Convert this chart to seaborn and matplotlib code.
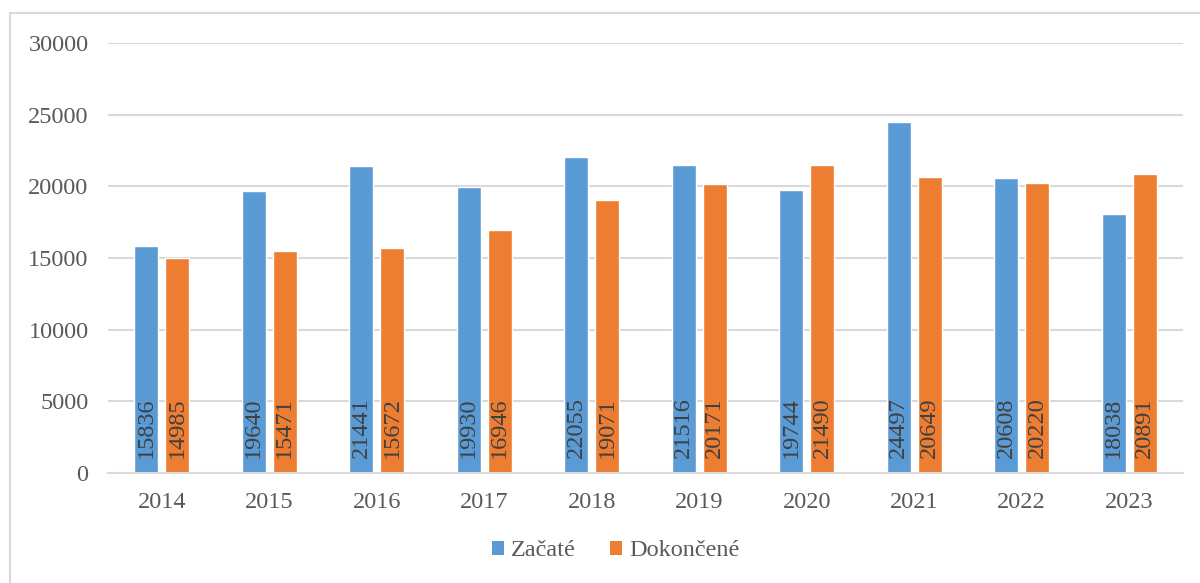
import matplotlib
matplotlib.use("Agg")
import matplotlib.pyplot as plt
import seaborn as sns
import pandas as pd
from matplotlib.patches import Rectangle, Patch

years = ["2014", "2015", "2016", "2017", "2018", "2019", "2020", "2021", "2022", "2023"]
zacate = [15836, 19640, 21441, 19930, 22055, 21516, 19744, 24497, 20608, 18038]
dokoncene = [14985, 15471, 15672, 16946, 19071, 20171, 21490, 20649, 20220, 20891]
series_names = ["Začaté", "Dokončené"]
colors = ["#5B9BD5", "#ED7D31"]
yticks = [0, 5000, 10000, 15000, 20000, 25000, 30000]

df = pd.DataFrame({
    "year": years * 2,
    "value": zacate + dokoncene,
    "series": [series_names[0]] * len(years) + [series_names[1]] * len(years),
})

sns.set_style("white")
plt.rcParams["font.family"] = ["Liberation Serif", "DejaVu Serif"]
FS = 17.5
TXT = "#595959"

fig = plt.figure(figsize=(12, 5.83), dpi=100)
fig.patches.append(Rectangle((10 / 1200, -0.1), 1.2, (583 - 13) / 583 + 0.1,
                             transform=fig.transFigure, fill=False,
                             edgecolor="#d9d9d9", linewidth=1.5))
ax = fig.add_axes([108 / 1200, 1 - 473 / 583, (1183 - 108) / 1200, (473 - 43) / 583])

sns.barplot(data=df, x="year", y="value", hue="series", hue_order=series_names,
            palette=colors, width=0.576, gap=0.226, ax=ax, legend=False,
            saturation=1)

ax.set_ylim(0, 30000)
ax.set_xlim(-0.5, len(years) - 0.5)
ax.set_yticks(yticks)
ax.set_yticklabels([str(v) for v in yticks])
ax.set_xlabel("")
ax.set_ylabel("")
ax.grid(axis="y", color="#d9d9d9", linewidth=1.5)
ax.set_axisbelow(True)
for s in ["left", "right", "top"]:
    ax.spines[s].set_visible(False)
ax.spines["bottom"].set_color("#d9d9d9")
ax.spines["bottom"].set_linewidth(1.5)
ax.tick_params(axis="y", length=0, pad=14, labelsize=FS, labelcolor=TXT)
ax.tick_params(axis="x", length=0, pad=14, labelsize=FS, labelcolor=TXT)

for cont in ax.containers:
    for bar in cont:
        h = bar.get_height()
        ax.annotate(f"{int(round(h))}", (bar.get_x() + bar.get_width() / 2, 0),
                    xytext=(0, 11), textcoords="offset points",
                    rotation=90, ha="center", va="bottom",
                    fontsize=FS, color="#404040")

handles = [Patch(facecolor=c, edgecolor="none") for c in colors]
fig.legend(handles, series_names, loc="center", bbox_to_anchor=(0.513, 1 - 551 / 583),
           ncol=2, frameon=False, fontsize=FS, labelcolor=TXT,
           handlelength=0.5, handleheight=0.5, handletextpad=0.3, columnspacing=1.4)

fig.savefig("out.png", dpi=100, facecolor="white")
